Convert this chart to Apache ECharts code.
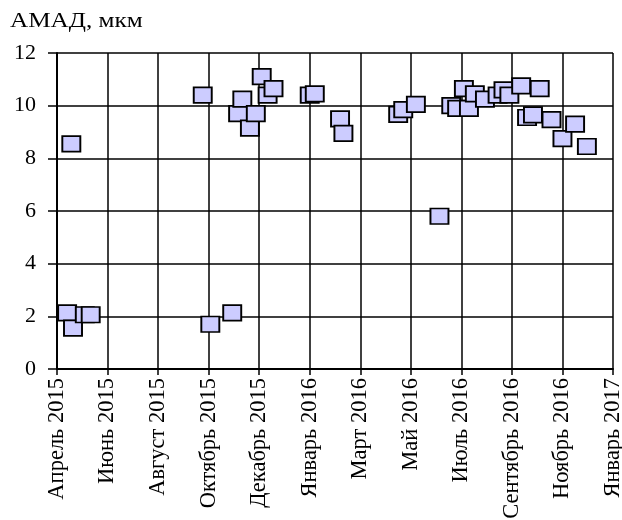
<!DOCTYPE html>
<html>
<head>
<meta charset="utf-8">
<script src="https://cdn.jsdelivr.net/npm/echarts@6/dist/echarts.min.js"></script>
<style>
  html, body { margin: 0; padding: 0; background: #fff; }
  #chart { width: 622px; height: 520px; }
</style>
</head>
<body>
<div id="chart"></div>
<script>
// Sampling dates and measured AMAD values (µm)
const sampleDates = [
  '2015-04-17', '2015-04-22', '2015-04-24', '2015-05-08', '2015-05-15',
  '2015-09-25', '2015-10-04', '2015-10-30', '2015-11-06', '2015-11-11',
  '2015-11-20', '2015-11-27', '2015-12-04', '2015-12-11', '2015-12-18',
  '2016-01-30', '2016-02-05', '2016-03-06', '2016-03-10', '2016-05-14',
  '2016-05-20', '2016-06-04', '2016-07-02', '2016-07-16', '2016-07-23',
  '2016-07-31', '2016-08-06', '2016-08-13', '2016-08-25', '2016-09-09',
  '2016-09-16', '2016-09-23', '2016-10-07', '2016-10-14', '2016-10-21',
  '2016-10-29', '2016-11-12', '2016-11-25', '2016-12-10', '2016-12-24'
];
const amadValues = [
  2.13, 8.55, 1.55, 2.06, 2.06,
  10.4, 1.7, 2.13, 9.7, 10.25,
  9.15, 9.7, 11.1, 10.4, 10.65,
  10.4, 10.45, 9.5, 8.95, 9.67,
  9.85, 10.05, 5.8, 10.0, 9.9,
  10.65, 9.9, 10.45, 10.25, 10.4,
  10.6, 10.4, 10.75, 9.55, 9.65,
  10.65, 9.47, 8.75, 9.3, 8.45
];

// Date axis: starts on the origin date, one tick every 60 days
const axisOrigin = '2015-04-05';
const tickStepDays = 60;
const tickCount = 11;
const monthNames = ['Январь', 'Февраль', 'Март', 'Апрель', 'Май', 'Июнь',
  'Июль', 'Август', 'Сентябрь', 'Октябрь', 'Ноябрь', 'Декабрь'];
const yTicks = { min: 0, max: 12, step: 2 };
const yTitle = 'АМАД, мкм';

const DAY = 86400000;
const originMs = Date.parse(axisOrigin + 'T00:00:00Z');
const toDays = s => (Date.parse(s + 'T00:00:00Z') - originMs) / DAY;
const dayLabel = d => {
  const dt = new Date(originMs + d * DAY);
  return monthNames[dt.getUTCMonth()] + ' ' + dt.getUTCFullYear();
};

const points = sampleDates.map((d, i) => [toDays(d), amadValues[i]]);
const FONT = '"Liberation Serif", "Times New Roman", serif';

const chart = echarts.init(document.getElementById('chart'), null, { renderer: 'canvas' });
chart.setOption({
  animation: false,
  backgroundColor: '#fff',
  graphic: [{
    type: 'text',
    left: 10, top: 11,
    scaleX: 1.2,
    style: { text: yTitle, font: '21px ' + FONT, fill: '#000' }
  }],
  grid: {
    left: 57, right: 9, top: 53, bottom: 151,
    containLabel: false,
    outerBoundsMode: 'none'
  },
  xAxis: {
    type: 'value',
    min: 0,
    max: tickStepDays * tickCount,
    interval: tickStepDays,
    axisLine: { show: true, onZero: false, lineStyle: { color: '#000', width: 2 } },
    axisTick: { show: true, length: 6, lineStyle: { color: '#000', width: 1.5 } },
    splitLine: { show: true, lineStyle: { color: '#000', width: 1.5 } },
    axisLabel: {
      rotate: 90,
      margin: 9,
      fontFamily: FONT, fontSize: 22.5, color: '#000',
      formatter: v => dayLabel(v)
    }
  },
  yAxis: {
    type: 'value',
    min: yTicks.min,
    max: yTicks.max,
    interval: yTicks.step,
    axisLine: { show: true, lineStyle: { color: '#000', width: 2 } },
    axisTick: { show: true, length: 9, lineStyle: { color: '#000', width: 1.5 } },
    splitLine: { show: true, lineStyle: { color: '#000', width: 1.5 } },
    axisLabel: { margin: 21, fontFamily: FONT, fontSize: 22, color: '#000' }
  },
  series: [{
    type: 'scatter',
    data: points,
    symbol: 'rect',
    symbolSize: [18, 15.5],
    itemStyle: { color: '#ccccff', borderColor: '#000', borderWidth: 1.8, opacity: 1 },
    emphasis: { disabled: true }
  }]
});
</script>
</body>
</html>
